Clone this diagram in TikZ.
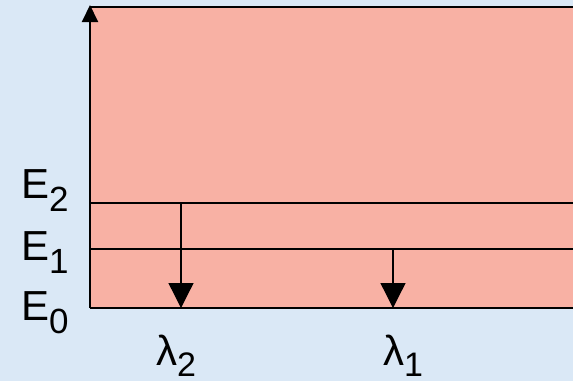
\documentclass[tikz,border=0pt]{standalone}
\usepackage{fontspec}
\setmainfont{Liberation Sans}
\usetikzlibrary{arrows.meta}
\definecolor{bgblue}{RGB}{218,232,246}
\definecolor{salmon}{RGB}{248,177,164}
\tikzset{
  lvl/.style={line width=1.3pt},
  trans/.style={line width=1.3pt,-{Triangle[width=25pt,length=25pt]}},
  axis/.style={line width=2pt,-{Triangle[width=16pt,length=17pt]}},
  lab/.style={anchor=base west,inner sep=0pt,font=\fontsize{42}{48}\selectfont},
}
\newcommand{\sbs}[1]{\raisebox{-13pt}{\fontsize{35}{40}\selectfont #1}}
\newcommand{\lsbs}[1]{\raisebox{-11pt}{\fontsize{34}{38}\selectfont #1}}
\begin{document}
\begin{tikzpicture}[x=1pt,y=-1pt]
\fill[bgblue] (0,0) rectangle (573,381);
\useasboundingbox (0,0) rectangle (573,381);
\fill[salmon] (90,7) rectangle (573,308);
\coordinate (o) at (90,308);
\coordinate (top) at (90,5);
\coordinate (tl) at (90,7);
\coordinate (tr) at (573,7);
\coordinate (br) at (573,308);
\coordinate (e2l) at (90,203);
\coordinate (e2r) at (573,203);
\coordinate (e1l) at (90,249);
\coordinate (e1r) at (573,249);
\coordinate (a2s) at (181,203);
\coordinate (a2e) at (181,308);
\coordinate (a1s) at (393,249);
\coordinate (a1e) at (393,308);
\draw[line width=2pt] (tl) -- (tr);
\draw[line width=2pt] (o) -- (br);
\draw[lvl] (e2l) -- (e2r);
\draw[lvl] (e1l) -- (e1r);
\draw[axis] (o) -- (top);
\draw[trans] (a2s) -- (a2e);
\draw[trans] (a1s) -- (a1e);
\node[lab] (E2) at (21,198) {E\sbs{2}};
\node[lab] (E1) at (21,260) {E\sbs{1}};
\node[lab] (E0) at (21,320) {E\sbs{0}};
\node[lab] (L2) at (156,365) {λ\lsbs{2}};
\node[lab] (L1) at (383,365) {λ\lsbs{1}};
\end{tikzpicture}
\end{document}
